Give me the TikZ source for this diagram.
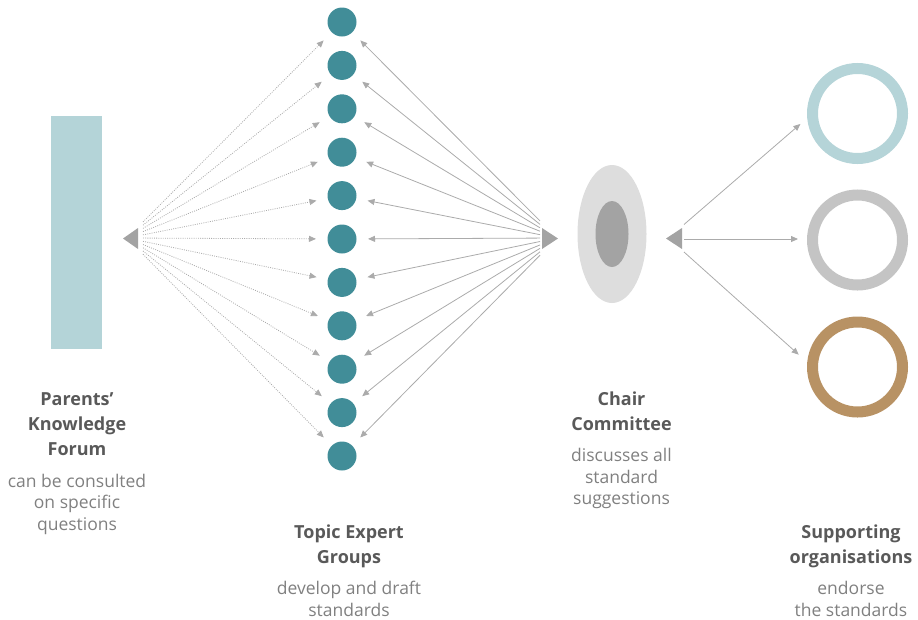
\documentclass[tikz,border=0pt]{standalone}
\usepackage{fontspec}
\setmainfont{Open Sans}
\usetikzlibrary{arrows.meta,shapes.geometric}
\definecolor{tealc}{HTML}{418D98}
\definecolor{rectc}{HTML}{B4D4D8}
\definecolor{ringa}{HTML}{B5D4D8}
\definecolor{ringb}{HTML}{C4C4C4}
\definecolor{ringc}{HTML}{B89264}
\definecolor{ellout}{HTML}{DDDDDD}
\definecolor{ellin}{HTML}{A3A3A3}
\definecolor{tric}{HTML}{A3A3A3}
\definecolor{linec}{HTML}{ABABAB}
\definecolor{headc}{HTML}{595959}
\definecolor{descc}{HTML}{808080}
\begin{document}
\begin{tikzpicture}[x=1pt,y=-1pt,
  conn/.style={draw=linec, line width=0.8pt, -{Triangle[length=7pt,width=6pt]}},
  dotconn/.style={conn, dash pattern=on 0.9pt off 1.3pt},
  dot/.style={circle, fill=tealc, minimum size=29pt, inner sep=0pt, outer sep=0pt},
  ring/.style={circle, draw=#1, line width=11pt, minimum size=90pt, inner sep=0pt, outer sep=0pt},
  head/.style={anchor=base, inner sep=0pt, text=headc, font=\bfseries\fontsize{18}{22}\selectfont},
  desc/.style={anchor=base, inner sep=0pt, text=descc, font=\fontsize{17.5}{22}\selectfont},
]
\useasboundingbox (0,0) rectangle (918,619);

% Parents' Knowledge Forum bar
\node[fill=rectc, minimum width=51pt, minimum height=233pt, inner sep=0pt, anchor=north west] (forum) at (51,116) {};

% triangles
\fill[tric] (123,238.5) -- (138,228) -- (138,249) -- cycle;
\fill[tric] (558,238.5) -- (542,228) -- (542,249) -- cycle;
\fill[tric] (666,238.5) -- (682,228) -- (682,249) -- cycle;

% topic expert groups
\foreach \i in {0,...,10} {
  \pgfmathsetmacro\cy{22+43.4*\i}
  \node[dot] (t\i) at (342,\cy) {};
  \coordinate (pl\i) at (143, {238+(\cy-238)*0.0744});
  \coordinate (pr\i) at (540, {238+(\cy-238)*0.079});
  \draw[dotconn, shorten >=11.5pt] (pl\i) -- (t\i);
  \draw[conn, shorten >=11.5pt] (pr\i) -- (t\i);
}

% chair committee
\node[ellipse, fill=ellout, minimum width=69pt, minimum height=138pt, inner sep=0pt] (chair) at (612,234) {};
\node[ellipse, fill=ellin, minimum width=33pt, minimum height=66pt, inner sep=0pt] (chairin) at (612,234) {};

% supporting organisations
\node[ring=ringa] (s1) at (857.5,113.5) {};
\node[ring=ringb] (s2) at (857.5,240) {};
\node[ring=ringc] (s3) at (857.5,367) {};
\coordinate (q1) at (684,224.5);
\coordinate (q2) at (684,239);
\coordinate (q3) at (684,252);
\draw[conn, shorten >=16pt] (q1) -- (s1.west);
\draw[conn, shorten >=14.5pt] (q2) -- (q2 -| s2.west);
\draw[conn, shorten >=18.5pt] (q3) -- (s3.west);

% texts
\node[head] (p1) at (77,405.5) {Parents’};
\node[head] (p2) at (77,430) {Knowledge};
\node[head] (p3) at (77,455.5) {Forum};
\node[desc] (p4) at (77,487) {can be consulted};
\node[desc] (p5) at (77,508.5) {on specific};
\node[desc] (p6) at (77,530) {questions};

\node[head] (g1) at (349,538.5) {Topic Expert};
\node[head] (g2) at (349,563) {Groups};
\node[desc] (g3) at (349,594.5) {develop and draft};
\node[desc] (g4) at (349,616) {standards};

\node[head] (c1) at (621.5,405.5) {Chair};
\node[head] (c2) at (621.5,430) {Committee};
\node[desc] (c3) at (621.5,461) {discusses all};
\node[desc] (c4) at (621.5,483) {standard};
\node[desc] (c5) at (621.5,504) {suggestions};

\node[head] (o1) at (851,538.5) {Supporting};
\node[head] (o2) at (851,563) {organisations};
\node[desc] (o3) at (851,594.5) {endorse};
\node[desc] (o4) at (851,616) {the standards};
\end{tikzpicture}
\end{document}
